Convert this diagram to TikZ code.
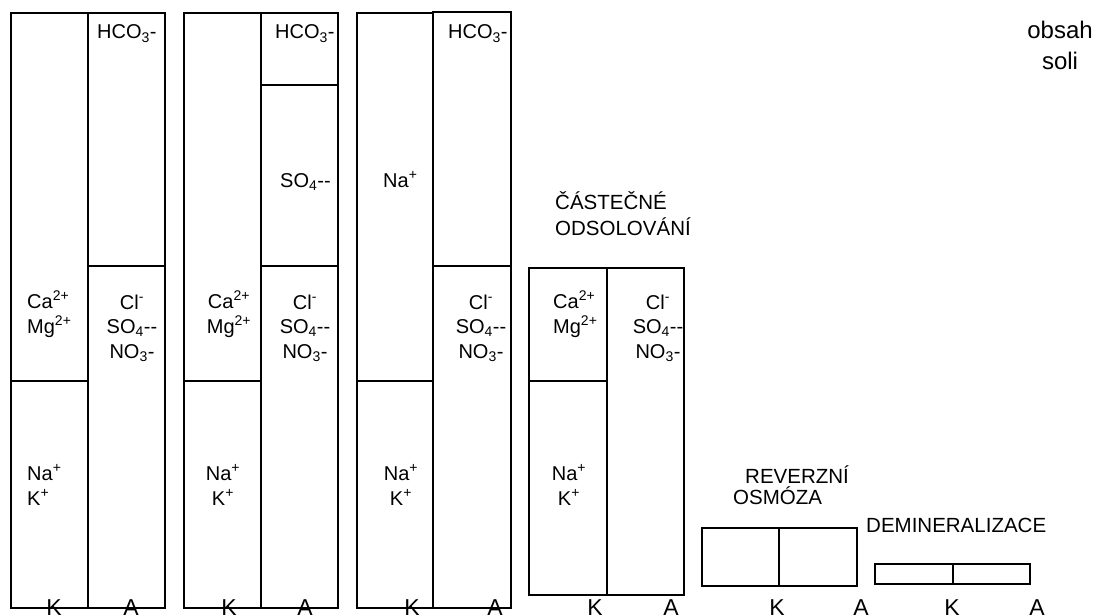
\documentclass[tikz,border=0pt]{standalone}
\usepackage{fontspec}
\setmainfont{Liberation Sans}
\usepackage{tikz}

\begin{document}
\begin{tikzpicture}[
  x=1pt, y=-1pt,
  bar/.style={line width=2pt},
  ion/.style={font=\fontsize{20}{24.5}\selectfont, inner sep=0pt, align=center, anchor=base},
  ionl/.style={ion, align=left, anchor=base west},
  capt/.style={font=\fontsize{20.5}{26}\selectfont, inner sep=0pt, align=left, anchor=base west},
  ka/.style={font=\fontsize{23}{26}\selectfont, inner sep=0pt, anchor=base},
]
\useasboundingbox (0,0) rectangle (1114,615);

% puvodni voda
\draw[bar] (11,13) rectangle (165,608);
\draw[bar] (88,13) -- (88,608) (11,381) -- (88,381) (88,266) -- (165,266);
\node[ionl] (hco1) at (97,39) {HCO\textsubscript{3}-};
\node[ionl] (camg1) at (27,333) {Ca\textsuperscript{2+}\\Mg\textsuperscript{2+}};
\node[ion] (an1) at (132,358) {Cl\textsuperscript{-}\\SO\textsubscript{4}-{}-\\NO\textsubscript{3}-};
\node[ionl] (nak1) at (27,505) {Na\textsuperscript{+}\\K\textsuperscript{+}};

% dekarbonizace
\draw[bar] (184,13) rectangle (338,608);
\draw[bar] (261,13) -- (261,608) (184,381) -- (261,381)
  (261,85) -- (338,85) (261,266) -- (338,266);
\node[ionl] (hco2) at (275,39) {HCO\textsubscript{3}-};
\node[ionl] (so2) at (280,187) {SO\textsubscript{4}-{}-};
\node[ion] (camg2) at (229,333) {Ca\textsuperscript{2+}\\Mg\textsuperscript{2+}};
\node[ion] (an2) at (305,358) {Cl\textsuperscript{-}\\SO\textsubscript{4}-{}-\\NO\textsubscript{3}-};
\node[ion] (nak2) at (223,505) {Na\textsuperscript{+}\\K\textsuperscript{+}};

% zmekceni
\draw[bar] (357,13) rectangle (433,608);
\draw[bar] (433,12) rectangle (511,608);
\draw[bar] (357,381) -- (433,381) (433,266) -- (511,266);
\node[ionl] (hco3) at (448,39) {HCO\textsubscript{3}-};
\node[ionl] (na3) at (383,187) {Na\textsuperscript{+}};
\node[ion] (an3) at (481,358) {Cl\textsuperscript{-}\\SO\textsubscript{4}-{}-\\NO\textsubscript{3}-};
\node[ion] (nak3) at (401,505) {Na\textsuperscript{+}\\K\textsuperscript{+}};

% castecne odsoleni
\draw[bar] (529,268) rectangle (684,595);
\draw[bar] (607,268) -- (607,595) (529,381) -- (607,381);
\node[capt] (odsol) at (555,235) {ČÁSTEČNÉ\\ODSOLOVÁNÍ};
\node[ionl] (camg4) at (553,333) {Ca\textsuperscript{2+}\\Mg\textsuperscript{2+}};
\node[ion] (an4) at (658,358) {Cl\textsuperscript{-}\\SO\textsubscript{4}-{}-\\NO\textsubscript{3}-};
\node[ion] (nak4) at (569,505) {Na\textsuperscript{+}\\K\textsuperscript{+}};

% reverzni osmoza a demineralizace
\draw[bar] (702,528) rectangle (857,586);
\draw[bar] (779,528) -- (779,586);
\node[capt, font=\fontsize{20.5}{21}\selectfont] (ro) at (733,504) {\hspace*{12pt}REVERZNÍ\\OSMÓZA};
\draw[bar] (875,564) rectangle (1030,584);
\draw[bar] (953,564) -- (953,584);
\node[capt] (demi) at (866,532) {DEMINERALIZACE};

\node[ion, font=\fontsize{24}{31}\selectfont] (soli) at (1060,70) {obsah\\soli};

% K / A pod sloupci
\foreach \n/\x/\t in {k1/54/K, a1/131/A, k2/229/K, a2/305/A, k3/412/K, a3/495/A,
  k4/595/K, a4/671/A, k5/777/K, a5/861/A, k6/952/K, a6/1037/A}
  \node[ka] (\n) at (\x,615) {\t};
\end{tikzpicture}
\end{document}
